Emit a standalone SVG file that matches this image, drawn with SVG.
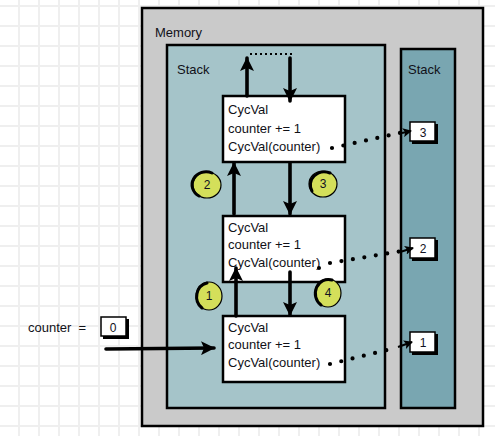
<svg xmlns="http://www.w3.org/2000/svg" width="495" height="436" viewBox="0 0 495 436">
<style>
.t{font-family:"Liberation Sans",Arial,sans-serif;font-size:13px;fill:#111118}
.n{font-family:"Liberation Sans",Arial,sans-serif;font-size:12px;fill:#111122;text-anchor:middle}
.box{fill:#fff;stroke:#000;stroke-width:2.5}
.thick{fill:none;stroke:#000;stroke-width:3.6;stroke-linecap:round}
.dots{fill:none;stroke:#000;stroke-width:4.2;stroke-linecap:round;stroke-dasharray:0 11.6}
.circ{fill:#d4df5a;stroke:#000;stroke-width:1.2}
.arc{fill:none;stroke:#000;stroke-width:3;stroke-linecap:round}
</style>
<defs>
<pattern id="grid" width="20" height="20" patternUnits="userSpaceOnUse" x="18" y="5">
<path d="M0,1 H20 M1,0 V20" stroke="#efefef" stroke-width="2" fill="none"/>
</pattern>
<marker id="arr" viewBox="0 0 14 14" refX="13" refY="7" markerWidth="14" markerHeight="14" markerUnits="userSpaceOnUse" orient="auto">
<path d="M0,0 L14,7 L0,14 L3,7 z" fill="#000"/>
</marker>
<marker id="sarr" viewBox="0 0 9 9" refX="8" refY="4.5" markerWidth="9" markerHeight="9" markerUnits="userSpaceOnUse" orient="auto">
<path d="M0,0 L9,4.5 L0,9 L2,4.5 z" fill="#000"/>
</marker>
</defs>
<rect width="495" height="436" fill="#fff"/>
<rect width="495" height="436" fill="url(#grid)"/>

<g id="memory">
<rect x="142" y="8" width="341" height="418" fill="#cacaca" stroke="#000" stroke-width="2.5"/>
<text class="t" x="155" y="37">Memory</text>
</g>
<g id="stack-left">
<rect x="167" y="45" width="218" height="363" fill="#a5c4c9" stroke="#000" stroke-width="2.5"/>
<text class="t" x="177" y="74">Stack</text>
</g>
<g id="stack-right">
<rect x="401" y="49" width="54" height="359" fill="#79a6b1" stroke="#000" stroke-width="2.5"/>
<text class="t" x="408" y="74">Stack</text>
</g>

<g id="frame-top">
<rect class="box" x="223" y="96" width="122" height="66"/>
<text class="t" x="228" y="114">CycVal</text>
<text class="t" x="228" y="133">counter += 1</text>
<text class="t" x="228" y="151">CycVal(counter)</text>
</g>
<g id="frame-mid">
<rect class="box" x="223" y="216" width="122" height="66"/>
<text class="t" x="228" y="232">CycVal</text>
<text class="t" x="228" y="249">counter += 1</text>
<text class="t" x="228" y="267">CycVal(counter)</text>
</g>
<g id="frame-bot">
<rect class="box" x="223" y="316" width="122" height="66"/>
<text class="t" x="228" y="332">CycVal</text>
<text class="t" x="228" y="349">counter += 1</text>
<text class="t" x="228" y="367">CycVal(counter)</text>
</g>

<g id="val-3">
<rect x="412" y="124" width="26" height="20" fill="#000"/>
<rect x="410" y="122" width="25" height="19" fill="#fff" stroke="#000" stroke-width="1.5"/>
<text class="n" x="423" y="137">3</text>
</g>
<g id="val-2">
<rect x="412" y="240" width="26" height="21" fill="#000"/>
<rect x="410" y="238" width="25" height="20" fill="#fff" stroke="#000" stroke-width="1.5"/>
<text class="n" x="423" y="253">2</text>
</g>
<g id="val-1">
<rect x="412" y="334" width="26" height="21" fill="#000"/>
<rect x="410" y="332" width="25" height="20" fill="#fff" stroke="#000" stroke-width="1.5"/>
<text class="n" x="423" y="347">1</text>
</g>

<g id="counter-input">
<text class="t" x="28" y="332" xml:space="preserve">counter  =</text>
<rect x="103" y="319" width="26" height="20" fill="#000"/>
<rect x="101" y="317" width="25" height="19" fill="#fff" stroke="#000" stroke-width="1.5"/>
<text class="n" x="113" y="332">0</text>
</g>

<g id="step-1">
<ellipse class="circ" cx="209" cy="296" rx="13" ry="14"/>
<path class="arc" d="M202,308 A13,14 0 0 1 207,283"/>
<text class="n" x="209" y="300">1</text>
</g>
<g id="step-2">
<ellipse class="circ" cx="207" cy="185" rx="14" ry="13"/>
<path class="arc" d="M199,196 A14,13 0 0 1 212,173"/>
<text class="n" x="207" y="189">2</text>
</g>
<g id="step-3">
<ellipse class="circ" cx="323" cy="184" rx="14" ry="13"/>
<path class="arc" d="M312,191 A14,13 0 0 1 330,173"/>
<text class="n" x="323" y="188">3</text>
</g>
<g id="step-4">
<ellipse class="circ" cx="328" cy="293" rx="13" ry="14"/>
<path class="arc" d="M321,305 A13,14 0 0 1 332,280"/>
<text class="n" x="328" y="297">4</text>
</g>

<g id="connectors">
<path class="thick" d="M247,96 V58" marker-end="url(#arr)"/>
<path d="M250,54 H292" stroke="#000" stroke-width="2" stroke-dasharray="2 3" fill="none"/>
<path class="thick" d="M290,58 V101" marker-end="url(#arr)"/>
<path class="thick" d="M234,214 V163" marker-end="url(#arr)"/>
<path class="thick" d="M290,163 V214" marker-end="url(#arr)"/>
<path class="thick" d="M236,316 V268" marker-end="url(#arr)"/>
<path class="thick" d="M290,272 V315" marker-end="url(#arr)"/>
<path class="thick" d="M106,349 L214,348" marker-end="url(#arr)"/>
<path class="dots" d="M332,148 L404,132"/>
<path d="M402,133 L411,131" stroke="#000" stroke-width="2" marker-end="url(#sarr)"/>
<path class="dots" d="M330,263 L402,251"/>
<path d="M400,252 L413,248" stroke="#000" stroke-width="2" marker-end="url(#sarr)"/>
<circle cx="319" cy="268" r="2" fill="#000"/>
<path class="dots" d="M330,364 L391,349"/>
<path d="M398,347 L412,342" stroke="#000" stroke-width="2" marker-end="url(#sarr)"/>
</g>
</svg>
